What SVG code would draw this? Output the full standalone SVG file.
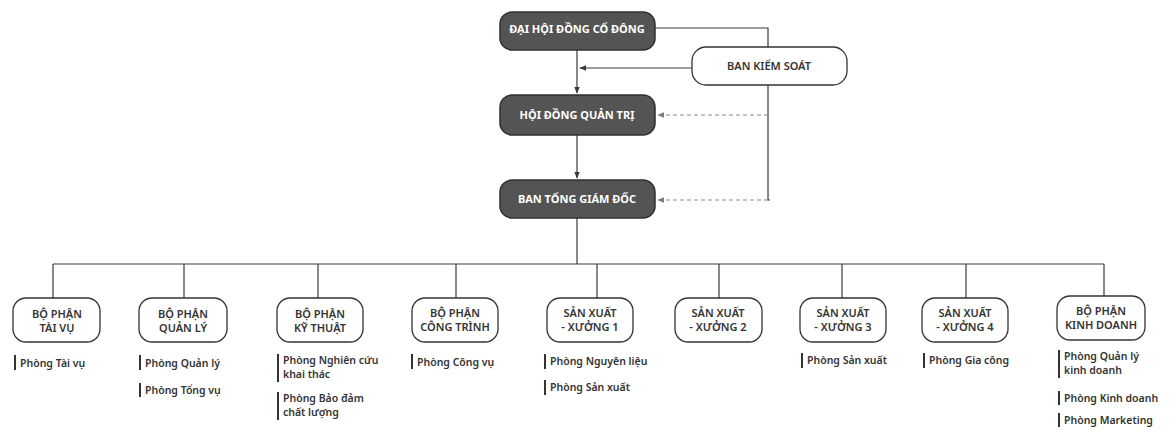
<svg xmlns="http://www.w3.org/2000/svg" width="1171" height="430" viewBox="0 0 1171 430">
<style>
.bg{fill:#ffffff}
.dark rect{fill:#545454;stroke:#2f2f2f;stroke-width:1.5}
.dark text{fill:#ffffff;font-family:"Noto Sans",sans-serif;font-weight:700;font-size:11px;text-anchor:middle}
.light rect{fill:#ffffff;stroke:#333333;stroke-width:1.3}
.light text{fill:#333333;font-family:"Noto Sans",sans-serif;font-weight:600;font-size:11px;text-anchor:middle}
.sub text{fill:#333333;font-family:"Noto Sans",sans-serif;font-weight:600;font-size:10.5px}
.sub line{stroke:#333333;stroke-width:2}
.conn line,.conn polyline{stroke:#3a3a3a;stroke-width:1.2;fill:none}
.conn .dash{stroke:#8a8a8a;stroke-dasharray:4 3}
</style>
<defs>
<marker id="ah" viewBox="0 0 10 10" refX="9" refY="5" markerWidth="6" markerHeight="6" orient="auto">
<path d="M0,1 L10,5 L0,9 z" fill="#3a3a3a"/>
</marker>
<marker id="ahg" viewBox="0 0 10 10" refX="9" refY="5" markerWidth="6" markerHeight="6" orient="auto">
<path d="M0,1 L10,5 L0,9 z" fill="#7a7a7a"/>
</marker>
</defs>
<rect class="bg" x="0" y="0" width="1171" height="430"/>

<g id="connectors" class="conn">
<line x1="577" y1="50" x2="577" y2="93" marker-end="url(#ah)"/>
<line x1="577" y1="135" x2="577" y2="178" marker-end="url(#ah)"/>
<polyline points="655,28 768,28 768,200 770,200"/>
<line x1="692" y1="68" x2="580" y2="68" marker-end="url(#ah)"/>
<line class="dash" x1="768" y1="115" x2="658" y2="115" marker-end="url(#ahg)"/>
<line class="dash" x1="768" y1="200" x2="658" y2="200" marker-end="url(#ahg)"/>
<line x1="577" y1="218" x2="577" y2="264"/>
<line x1="53" y1="264" x2="1104" y2="264"/>
<line x1="53" y1="264" x2="53" y2="298"/>
<line x1="184" y1="264" x2="184" y2="298"/>
<line x1="318" y1="264" x2="318" y2="298"/>
<line x1="456" y1="264" x2="456" y2="298"/>
<line x1="597" y1="264" x2="597" y2="298"/>
<line x1="719" y1="264" x2="719" y2="298"/>
<line x1="842" y1="264" x2="842" y2="298"/>
<line x1="966" y1="264" x2="966" y2="298"/>
<line x1="1104" y1="264" x2="1104" y2="296"/>
</g>

<g id="dhdcd" class="dark"><rect x="500" y="12" width="155" height="38" rx="12"/><text x="577" y="33">ĐẠI HỘI ĐỒNG CỔ ĐÔNG</text></g>
<g id="bks" class="light"><rect x="692" y="47" width="155" height="38" rx="14"/><text x="769" y="70">BAN KIỂM SOÁT</text></g>
<g id="hdqt" class="dark"><rect x="500" y="95" width="155" height="40" rx="12"/><text x="577" y="119">HỘI ĐỒNG QUẢN TRỊ</text></g>
<g id="btgd" class="dark"><rect x="500" y="180" width="155" height="38" rx="12"/><text x="577" y="203">BAN TỔNG GIÁM ĐỐC</text></g>

<g id="bp-taivu" class="light"><rect x="13" y="298" width="87" height="44" rx="13"/><text x="57" y="318">BỘ PHẬN</text><text x="57" y="332">TÀI VỤ</text></g>
<g id="bp-quanly" class="light"><rect x="139" y="298" width="88" height="44" rx="13"/><text x="183" y="318">BỘ PHẬN</text><text x="183" y="332">QUẢN LÝ</text></g>
<g id="bp-kythuat" class="light"><rect x="277" y="298" width="86" height="44" rx="13"/><text x="320" y="318">BỘ PHẬN</text><text x="320" y="332">KỸ THUẬT</text></g>
<g id="bp-congtrinh" class="light"><rect x="412" y="298" width="86" height="44" rx="13"/><text x="455" y="317">BỘ PHẬN</text><text x="455" y="331">CÔNG TRÌNH</text></g>
<g id="sx1" class="light"><rect x="547" y="298" width="86" height="44" rx="13"/><text x="590" y="317">SẢN XUẤT</text><text x="590" y="331">- XƯỞNG 1</text></g>
<g id="sx2" class="light"><rect x="675" y="298" width="87" height="44" rx="13"/><text x="718" y="317">SẢN XUẤT</text><text x="718" y="331">- XƯỞNG 2</text></g>
<g id="sx3" class="light"><rect x="800" y="298" width="86" height="44" rx="13"/><text x="843" y="317">SẢN XUẤT</text><text x="843" y="331">- XƯỞNG 3</text></g>
<g id="sx4" class="light"><rect x="922" y="298" width="86" height="44" rx="13"/><text x="965" y="317">SẢN XUẤT</text><text x="965" y="331">- XƯỞNG 4</text></g>
<g id="bp-kinhdoanh" class="light"><rect x="1057" y="296" width="88" height="44" rx="13"/><text x="1101" y="315">BỘ PHẬN</text><text x="1101" y="329">KINH DOANH</text></g>

<g id="sub-taivu" class="sub"><line x1="15" y1="355" x2="15" y2="370"/><text x="20" y="367">Phòng Tài vụ</text></g>
<g id="sub-quanly" class="sub"><line x1="140" y1="355" x2="140" y2="370"/><text x="145" y="367">Phòng Quản lý</text><line x1="140" y1="383" x2="140" y2="397"/><text x="145" y="394">Phòng Tổng vụ</text></g>
<g id="sub-kythuat" class="sub"><line x1="278" y1="354" x2="278" y2="382"/><text x="283" y="364">Phòng Nghiên cứu</text><text x="283" y="378">khai thác</text><line x1="278" y1="392" x2="278" y2="420"/><text x="283" y="402">Phòng Bảo đảm</text><text x="283" y="416">chất lượng</text></g>
<g id="sub-congtrinh" class="sub"><line x1="412" y1="354" x2="412" y2="369"/><text x="417" y="366">Phòng Công vụ</text></g>
<g id="sub-sx1" class="sub"><line x1="545" y1="354" x2="545" y2="369"/><text x="550" y="365">Phòng Nguyên liệu</text><line x1="545" y1="380" x2="545" y2="395"/><text x="550" y="391">Phòng Sản xuất</text></g>
<g id="sub-sx3" class="sub"><line x1="802" y1="353" x2="802" y2="368"/><text x="807" y="364">Phòng Sản xuất</text></g>
<g id="sub-sx4" class="sub"><line x1="924" y1="353" x2="924" y2="368"/><text x="929" y="364">Phòng Gia công</text></g>
<g id="sub-kinhdoanh" class="sub"><line x1="1059" y1="350" x2="1059" y2="378"/><text x="1064" y="360">Phòng Quản lý</text><text x="1064" y="374">kinh doanh</text><line x1="1059" y1="391" x2="1059" y2="405"/><text x="1064" y="402">Phòng Kinh doanh</text><line x1="1059" y1="413" x2="1059" y2="427"/><text x="1064" y="424">Phòng Marketing</text></g>
</svg>
